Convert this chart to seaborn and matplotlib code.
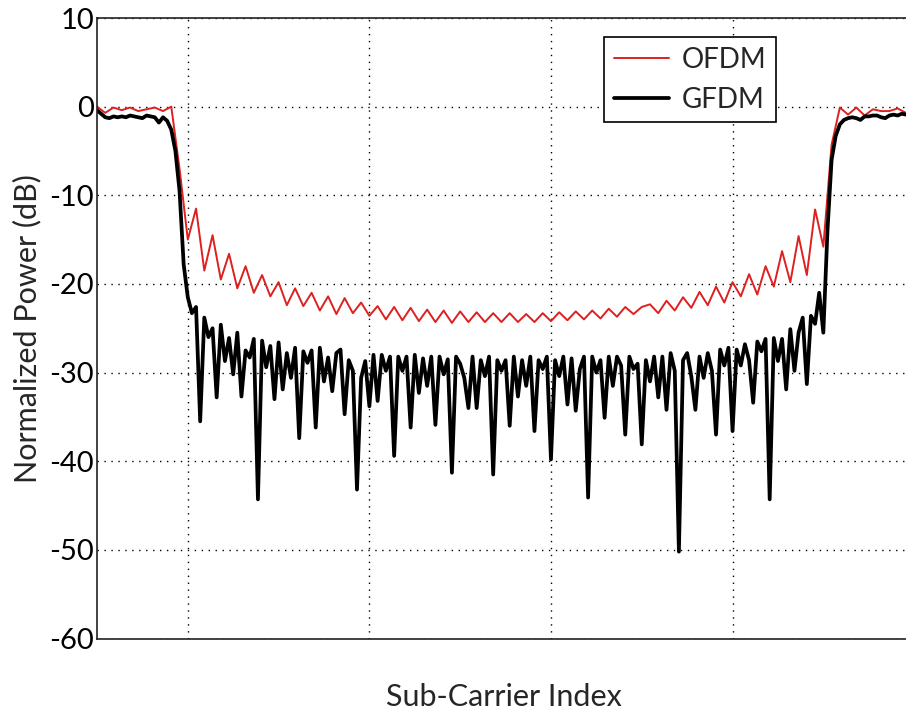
"""
Normalized power spectrum of OFDM vs GFDM over the sub-carrier index.
Values read off the reference figure.
"""
import numpy as np
import pandas as pd
import matplotlib
matplotlib.use("Agg")
import matplotlib.pyplot as plt
import seaborn as sns

# GFDM power (dB), one value per sub-carrier index 0..197
gfdm = [
    -0.4, -0.8, -1.2, -1.3, -1.1, -1.2, -1.1, -1.2, -1.0, -1.1,
    -1.2, -1.3, -1.0, -1.1, -1.2, -1.8, -1.2, -1.6, -2.6, -5.0,
    -9.5, -17.8, -21.5, -23.3, -22.6, -35.5, -23.8, -26.0, -25.0, -32.8,
    -24.6, -28.7, -26.1, -30.2, -25.5, -32.7, -27.5, -28.3, -26.2, -44.3,
    -26.4, -29.4, -27.0, -33.0, -26.6, -31.9, -27.8, -30.6, -27.2, -37.4,
    -27.6, -28.9, -27.5, -36.2, -27.2, -31.0, -28.3, -32.1, -27.8, -27.4,
    -34.7, -28.6, -29.8, -43.2, -30.6, -28.7, -33.8, -28.0, -33.2, -28.0,
    -29.8, -28.2, -39.4, -28.2, -29.8, -28.2, -36.2, -28.0, -32.3, -28.4,
    -31.5, -28.2, -35.9, -28.2, -30.2, -28.5, -41.3, -28.2, -29.0, -30.6,
    -34.0, -28.2, -34.0, -28.6, -30.4, -28.2, -41.5, -28.6, -29.8, -28.6,
    -36.0, -28.2, -32.7, -28.6, -31.5, -28.2, -36.6, -28.6, -29.6, -28.2,
    -39.8, -28.6, -30.4, -28.2, -33.6, -28.4, -34.3, -29.6, -28.2, -44.1,
    -28.2, -30.0, -28.6, -35.1, -28.2, -31.5, -28.2, -29.2, -37.0, -28.2,
    -29.6, -29.0, -38.1, -28.6, -31.0, -28.2, -32.8, -28.2, -34.2, -27.8,
    -29.8, -50.2, -28.6, -27.8, -30.4, -34.2, -28.2, -30.6, -27.8, -29.8,
    -37.0, -27.4, -29.2, -27.2, -36.6, -27.4, -29.2, -26.8, -28.6, -33.4,
    -26.5, -27.6, -26.2, -44.3, -26.1, -28.7, -26.2, -31.9, -25.1, -29.8,
    -25.5, -23.8, -31.3, -23.6, -24.5, -21.0, -25.5, -14.0, -6.0, -3.3,
    -2.0, -1.5, -1.3, -1.2, -1.3, -1.5, -1.1, -1.1, -1.0, -1.0,
    -1.2, -1.3, -1.0, -0.9, -1.0, -0.8, -0.9, -0.9,
]

# OFDM power (dB), every second sub-carrier index 0..196
ofdm = [
    0.0, -0.7, -0.1, -0.4, -0.1, -0.5, -0.3, -0.1, -0.5, 0.0,
    -7.0, -15.0, -11.5, -18.5, -14.5, -19.5, -16.6, -20.5, -18.0, -21.0,
    -19.0, -21.4, -19.8, -22.4, -20.5, -22.5, -21.0, -23.0, -21.4, -23.4,
    -21.6, -23.3, -22.1, -23.6, -22.5, -24.0, -22.6, -24.1, -22.7, -24.2,
    -22.9, -24.3, -23.0, -24.4, -23.1, -24.3, -23.2, -24.3, -23.3, -24.3,
    -23.3, -24.3, -23.4, -24.3, -23.3, -24.2, -23.2, -24.1, -23.1, -24.0,
    -23.0, -23.9, -22.8, -23.7, -22.6, -23.4, -22.6, -22.3, -23.3, -21.9,
    -23.0, -21.5, -22.7, -20.9, -22.4, -20.3, -22.1, -19.8, -21.4, -18.9,
    -21.2, -18.0, -20.3, -16.3, -19.8, -14.6, -19.0, -11.6, -15.8, -4.3,
    -0.1, -0.9, -0.1, -1.0, -0.3, -0.5, -0.5, -0.2, -0.7,
]

x_gfdm = np.arange(len(gfdm))
x_ofdm = np.arange(0, 2 * len(ofdm), 2)

grid_ticks = [22, 66, 110, 154]
y_ticks = [-60, -50, -40, -30, -20, -10, 0, 10]

sns.set_theme(style="white")
plt.rcParams["font.family"] = ["Lato", "DejaVu Sans"]
plt.rcParams["axes.unicode_minus"] = False

fig = plt.figure(figsize=(9.06, 7.11), dpi=100)
ax = fig.add_axes([97 / 906, 1 - 638.5 / 711, 813 / 906, 620.5 / 711])

df_ofdm = pd.DataFrame({"idx": x_ofdm, "power": ofdm})
df_gfdm = pd.DataFrame({"idx": x_gfdm, "power": gfdm})

sns.lineplot(data=df_ofdm, x="idx", y="power", color="#dd2020",
             linewidth=1.4, label="OFDM", ax=ax)
sns.lineplot(data=df_gfdm, x="idx", y="power", color="black",
             linewidth=2.7, label="GFDM", ax=ax)

ax.set_xlim(0, 197)
ax.set_ylim(-60, 10)
ax.set_xticks(grid_ticks)
ax.set_xticklabels([])
ax.set_yticks(y_ticks)
ax.set_axisbelow(True)
ax.grid(True, color="black", linestyle=(0, (1, 4)), linewidth=1.0)
ax.tick_params(direction="in", length=5, width=1, labelsize=21, pad=2,
               colors="black")
for s in ax.spines.values():
    s.set_color("#222222")
    s.set_linewidth(1.2)

ax.set_xlabel("Sub-Carrier Index", fontsize=22, labelpad=30)
ax.set_ylabel("Normalized Power (dB)", fontsize=22, labelpad=6)

ax.legend(loc="upper left", bbox_to_anchor=(604 / 906, 1 - 37 / 711),
          bbox_transform=fig.transFigure, frameon=True, fancybox=False,
          edgecolor="black", framealpha=1, fontsize=20, handlelength=2.0,
          borderpad=0.35, labelspacing=0.5, handletextpad=0.45,
          borderaxespad=0)
ax.get_legend().get_frame().set_linewidth(1.2)

fig.savefig("out.png", dpi=100)
